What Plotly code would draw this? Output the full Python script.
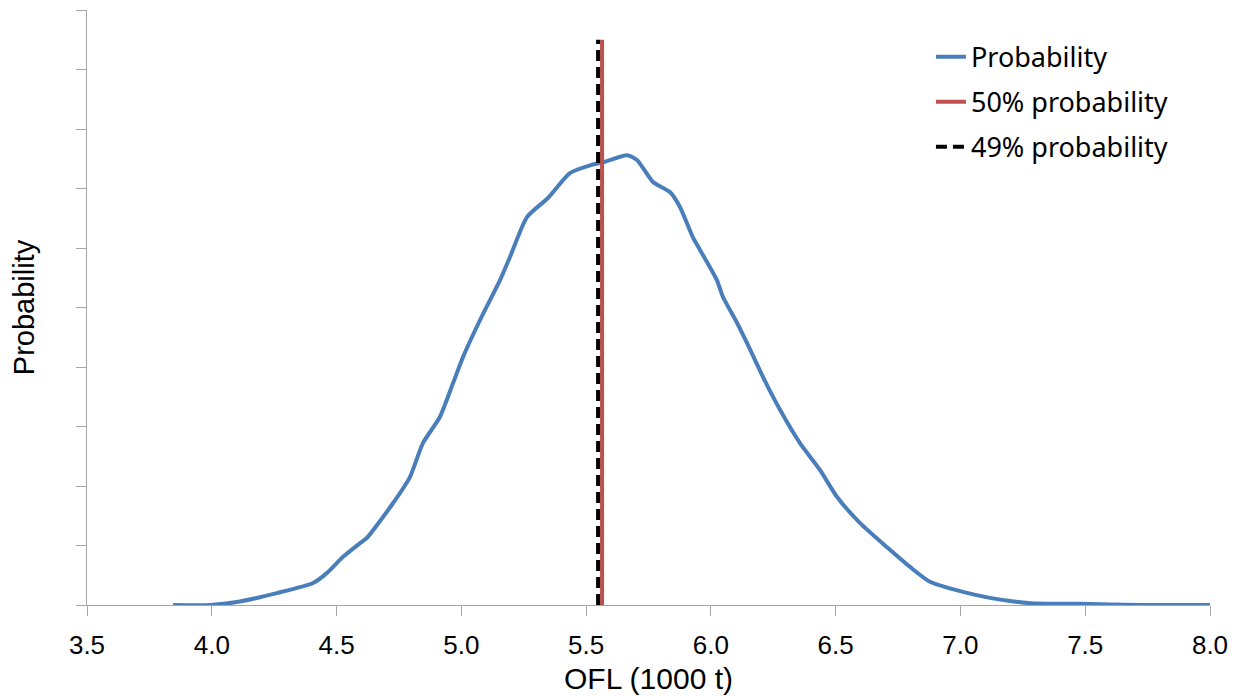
import plotly.graph_objects as go

# OFL values (1000 t) and relative probability
ofl = [3.845, 3.993, 4.101, 4.261, 4.406, 4.462, 4.526, 4.594, 4.622, 4.726,
       4.794, 4.846, 4.914, 4.967, 5.007, 5.075, 5.155, 5.195, 5.263, 5.347,
       5.435, 5.516, 5.568, 5.664, 5.704, 5.768, 5.836, 5.876, 5.928, 5.956,
       6.024, 6.048, 6.105, 6.145, 6.209, 6.277, 6.357, 6.437, 6.505, 6.597,
       6.706, 6.798, 6.878, 7.010, 7.118, 7.279, 7.479, 7.719, 8.000]
prob = [0.0000, 0.0000, 0.0005, 0.0020, 0.0037, 0.0054, 0.0081, 0.0104, 0.0113, 0.0171,
        0.0215, 0.0272, 0.0316, 0.0373, 0.0417, 0.0479, 0.0546, 0.0585, 0.0652, 0.0684,
        0.0726, 0.0739, 0.0744, 0.0756, 0.0748, 0.0711, 0.0694, 0.0669, 0.0618, 0.0597,
        0.0546, 0.0518, 0.0474, 0.0440, 0.0383, 0.0328, 0.0272, 0.0227, 0.0182, 0.0138,
        0.0097, 0.0064, 0.0039, 0.0022, 0.0012, 0.0003, 0.0002, 0.0000, 0.0000]

median_50 = 5.564   # 50% probability OFL
pct_49 = 5.548      # 49% probability OFL
vline_y = [0.0, 0.095]

x_ticks = [3.5, 4.0, 4.5, 5.0, 5.5, 6.0, 6.5, 7.0, 7.5, 8.0]
x_tick_labels = ["3.5", "4.0", "4.5", "5.0", "5.5", "6.0", "6.5", "7.0", "7.5", "8.0"]

fig = go.Figure()
fig.add_trace(go.Scatter(
    x=ofl, y=prob, mode="lines", name="Probability",
    line=dict(color="#4a7ebb", width=4, shape="spline", smoothing=0.6),
    legendgroup="a"))
fig.add_trace(go.Scatter(
    x=[median_50, median_50], y=vline_y, mode="lines", name="50% probability",
    line=dict(color="#c0504d", width=4), legendgroup="b"))
fig.add_trace(go.Scatter(
    x=[pct_49, pct_49], y=vline_y, mode="lines", name="49% probability",
    line=dict(color="#000000", width=4, dash="11px,6px"), legendgroup="c"))

axis_color = "#a6a6a6"
# the page body adds an 8px offset, so the figure is sized to compensate
fig.update_layout(
    width=1235, height=688,
    margin=dict(l=79, r=33, t=2, b=91),
    paper_bgcolor="white", plot_bgcolor="white",
    font=dict(family="Liberation Sans, Arial, sans-serif", color="#000000"),
    showlegend=True,
    legend=dict(x=0.7515, y=0.962, xanchor="left", yanchor="top",
                font=dict(family="Noto Sans, Open Sans, sans-serif", size=27, color="#000000"),
                bgcolor="rgba(0,0,0,0)", traceorder="grouped", tracegroupgap=7),
    xaxis=dict(range=[3.5, 8.0], tickvals=x_ticks, ticktext=x_tick_labels,
               showgrid=False, zeroline=False, showline=True, linecolor=axis_color,
               linewidth=1.3, ticks="outside", ticklen=10, tickcolor=axis_color,
               tickwidth=1.3, tickfont=dict(size=26), ticklabelstandoff=7,
               automargin=False,
               title=dict(text="OFL (1000 t)", font=dict(size=30), standoff=8)),
    yaxis=dict(range=[0, 0.1], dtick=0.01, showticklabels=False,
               showgrid=False, zeroline=False, showline=True, linecolor=axis_color,
               linewidth=1.3, ticks="outside", ticklen=10, tickcolor=axis_color,
               tickwidth=1.3, automargin=False,
               title=dict(text="Probability", font=dict(size=29), standoff=35)),
)

fig.write_html("out.html")
